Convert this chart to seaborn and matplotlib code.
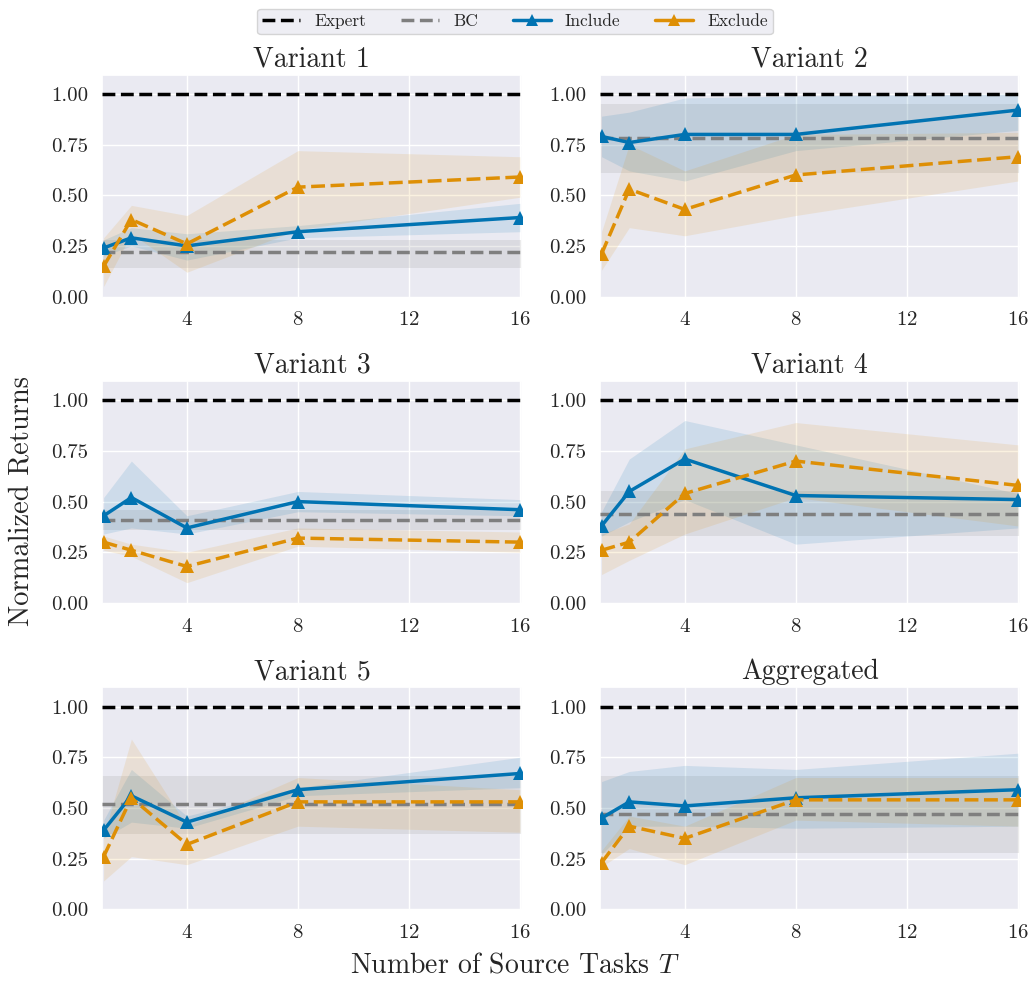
import numpy as np
import pandas as pd
import matplotlib
matplotlib.use("Agg")
import matplotlib.pyplot as plt
import seaborn as sns
from matplotlib.lines import Line2D

# number of source tasks
tasks = [1, 2, 4, 8, 16]
titles = ["Variant 1", "Variant 2", "Variant 3", "Variant 4", "Variant 5", "Aggregated"]

# Include (mean, lower, upper)
inc_mean = [[0.24, 0.29, 0.25, 0.32, 0.39],
            [0.79, 0.76, 0.80, 0.80, 0.92],
            [0.43, 0.52, 0.37, 0.50, 0.46],
            [0.38, 0.55, 0.71, 0.53, 0.51],
            [0.39, 0.56, 0.43, 0.59, 0.67],
            [0.45, 0.53, 0.51, 0.55, 0.59]]
inc_lo = [[0.20, 0.25, 0.18, 0.29, 0.32],
          [0.69, 0.62, 0.57, 0.72, 0.82],
          [0.34, 0.37, 0.34, 0.45, 0.43],
          [0.33, 0.40, 0.51, 0.29, 0.37],
          [0.35, 0.43, 0.40, 0.56, 0.60],
          [0.27, 0.41, 0.41, 0.40, 0.41]]
inc_hi = [[0.28, 0.34, 0.31, 0.35, 0.46],
          [0.89, 0.91, 0.98, 0.99, 1.00],
          [0.52, 0.70, 0.43, 0.55, 0.51],
          [0.45, 0.71, 0.90, 0.78, 0.54],
          [0.44, 0.69, 0.46, 0.60, 0.75],
          [0.63, 0.68, 0.71, 0.69, 0.77]]

# Exclude (mean, lower, upper)
exc_mean = [[0.15, 0.38, 0.26, 0.54, 0.59],
            [0.21, 0.53, 0.43, 0.60, 0.69],
            [0.30, 0.26, 0.18, 0.32, 0.30],
            [0.26, 0.30, 0.54, 0.70, 0.58],
            [0.26, 0.55, 0.32, 0.53, 0.53],
            [0.23, 0.41, 0.35, 0.54, 0.54]]
exc_lo = [[0.05, 0.31, 0.12, 0.33, 0.49],
          [0.13, 0.34, 0.30, 0.40, 0.57],
          [0.26, 0.23, 0.10, 0.28, 0.25],
          [0.14, 0.21, 0.34, 0.52, 0.38],
          [0.14, 0.26, 0.22, 0.41, 0.38],
          [0.21, 0.30, 0.22, 0.44, 0.41]]
exc_hi = [[0.29, 0.45, 0.40, 0.72, 0.69],
          [0.32, 0.75, 0.62, 0.80, 0.81],
          [0.33, 0.29, 0.25, 0.37, 0.35],
          [0.34, 0.39, 0.76, 0.89, 0.78],
          [0.36, 0.84, 0.41, 0.65, 0.59],
          [0.29, 0.46, 0.41, 0.65, 0.65]]

# BC baseline (mean, lower, upper) and expert
bc_mean = [0.22, 0.78, 0.41, 0.44, 0.52, 0.47]
bc_lo = [0.14, 0.61, 0.36, 0.33, 0.37, 0.28]
bc_hi = [0.28, 0.95, 0.46, 0.55, 0.66, 0.66]
expert = 1.0

sns.set_theme(style="darkgrid")
plt.rcParams["font.family"] = ["serif"]
plt.rcParams["font.serif"] = ["cmr10"]
plt.rcParams["mathtext.fontset"] = "cm"
plt.rcParams["axes.formatter.use_mathtext"] = True

blue = "#0173b2"
orange = "#de8f05"
gray = "#7f7f7f"

fig, axes = plt.subplots(3, 2, figsize=(10.3, 9.82), dpi=100)
fig.subplots_adjust(left=0.099, right=0.990, top=0.924, bottom=0.073,
                    wspace=0.186, hspace=0.374)

for i, ax in enumerate(axes.flat):
    df = pd.DataFrame({
        "T": tasks * 2,
        "ret": inc_mean[i] + exc_mean[i],
        "method": ["Include"] * 5 + ["Exclude"] * 5,
    })
    ax.axhline(expert, color="black", ls="--", lw=2.5, zorder=3)
    ax.axhline(bc_mean[i], color=gray, ls="--", lw=2.5, zorder=3)
    ax.axhspan(bc_lo[i], bc_hi[i], color=gray, alpha=0.15, lw=0)
    ax.fill_between(tasks, inc_lo[i], inc_hi[i], color=blue, alpha=0.12, lw=0)
    ax.fill_between(tasks, exc_lo[i], exc_hi[i], color=orange, alpha=0.12, lw=0)
    sns.lineplot(data=df, x="T", y="ret", hue="method", style="method",
                 hue_order=["Include", "Exclude"],
                 palette={"Include": blue, "Exclude": orange},
                 dashes={"Include": "", "Exclude": (4, 1.6)},
                 markers={"Include": "^", "Exclude": "^"},
                 markersize=10, markeredgewidth=0, lw=2.5, ax=ax, legend=False,
                 zorder=4)
    ax.set_xlim(0.94, 16.07)
    ax.set_ylim(-0.005, 1.095)
    ax.set_xticks([4, 8, 12, 16])
    ax.set_yticks([0, 0.25, 0.5, 0.75, 1.0])
    ax.set_yticklabels(["0.00", "0.25", "0.50", "0.75", "1.00"])
    ax.tick_params(labelsize=15, pad=4)
    ax.set_title(titles[i], fontsize=20)
    ax.set_xlabel("")
    ax.set_ylabel("")

fig.supylabel("Normalized Returns", fontsize=20.5, x=0.008, y=0.49)
fig.supxlabel("Number of Source Tasks $T$", fontsize=20, y=0.004)

handles = [
    Line2D([], [], color="black", ls="--", lw=2.5),
    Line2D([], [], color=gray, ls="--", lw=2.5),
    Line2D([], [], color=blue, lw=2.5, marker="^", markersize=9, markeredgewidth=0),
    Line2D([], [], color=orange, lw=2.5, marker="^", markersize=9, markeredgewidth=0),
]
leg = fig.legend(handles, ["Expert", "BC", "Include", "Exclude"], loc="upper center",
                 bbox_to_anchor=(0.5, 1.0), ncol=4, fontsize=12.5, frameon=True,
                 facecolor="#EAEAF2", edgecolor="#cccccc", handlelength=2.2,
                 columnspacing=2.0, borderpad=0.3)

fig.savefig("out.png", dpi=100)
